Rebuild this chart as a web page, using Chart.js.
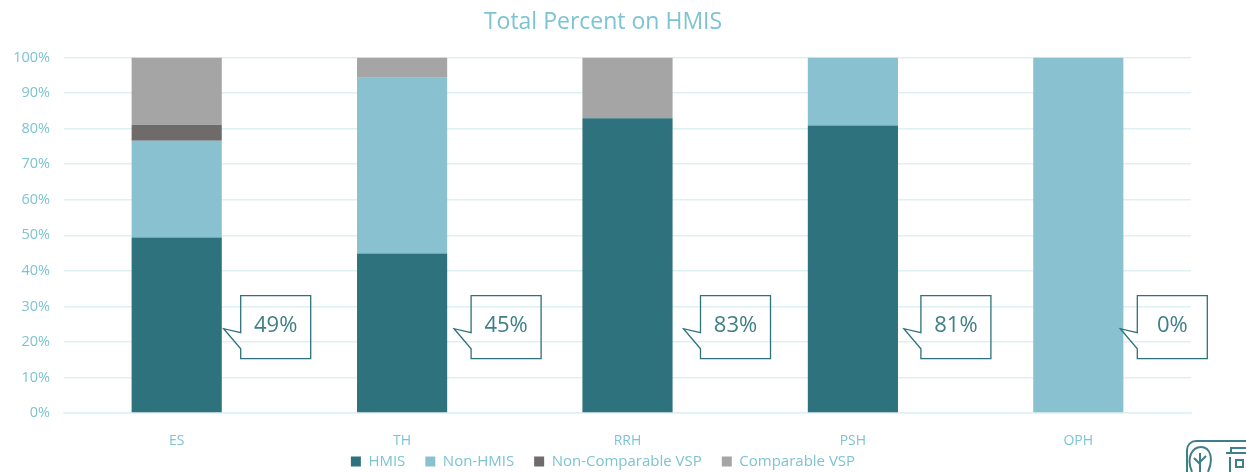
<!DOCTYPE html>
<html>
<head>
<meta charset="utf-8">
<title>Total Percent on HMIS</title>
<script src="https://cdn.jsdelivr.net/npm/chart.js@4"></script>
<style>
  html, body { margin: 0; padding: 0; background: #fff; }
  #wrap { width: 1246px; height: 472px; }
</style>
</head>
<body>
<div id="wrap"><canvas id="chart" width="1246" height="472"></canvas></div>
<script>
const categories = ["ES", "TH", "RRH", "PSH", "OPH"];
const hmis = [49.4, 44.9, 82.9, 80.9, 0];
const nonHmis = [27.2, 49.4, 0, 19.1, 100];
const nonComparableVsp = [4.5, 0, 0, 0, 0];
const comparableVsp = [18.9, 5.7, 17.1, 0, 0];
const calloutLabels = ["49%", "45%", "83%", "81%", "0%"];
const yTicks = [0, 10, 20, 30, 40, 50, 60, 70, 80, 90, 100];

const textColor = "#7cc4d2";
const gridColor = "#dff0f4";
const dark = "#2d727c";
const font = "'Open Sans', sans-serif";

// the bubbles were placed by hand in the original, so each has its own gap from the bar
const calloutGap = [19, 24, 28, 23, 14];

const callouts = {
  id: "callouts",
  afterDatasetsDraw(chart) {
    const ctx = chart.ctx;
    const top = chart.scales.y.getPixelForValue(33);
    categories.forEach((c, i) => {
      const edge = chart.scales.x.getPixelForValue(i) + 45;
      const left = edge + calloutGap[i];
      const right = left + 70;
      const bottom = top + 63;
      ctx.save();
      ctx.strokeStyle = dark;
      ctx.lineWidth = 1.3;
      ctx.beginPath();
      ctx.moveTo(left, top);
      ctx.lineTo(right, top);
      ctx.lineTo(right, bottom);
      ctx.lineTo(left, bottom);
      ctx.lineTo(left, top + 53);
      ctx.lineTo(left - 17, top + 33);
      ctx.lineTo(left, top + 37);
      ctx.closePath();
      ctx.stroke();
      ctx.fillStyle = "#3f7f88";
      ctx.font = "22px " + font;
      ctx.textAlign = "center";
      ctx.textBaseline = "middle";
      ctx.fillText(calloutLabels[i], left + 35, top + 30);
      ctx.restore();
    });
  }
};

// axis boxes are squeezed to place the plot, labels get clipped to them unless widened back
const unclipLabels = {
  id: "unclipLabels",
  afterLayout(chart) {
    chart.scales.x.bottom = chart.scales.x.top + 40;
    chart.scales.y.left = 0;
  }
};

// cut off logo in the bottom right corner
const logo = {
  id: "logo",
  afterDraw(chart) {
    const ctx = chart.ctx;
    ctx.save();
    ctx.strokeStyle = "#3f7f88";
    ctx.lineWidth = 2;
    ctx.beginPath();
    ctx.roundRect(1187, 441, 80, 50, 9);
    ctx.moveTo(1192, 472);
    ctx.bezierCurveTo(1186, 458, 1192, 447, 1201, 447);
    ctx.bezierCurveTo(1210, 447, 1214, 458, 1208, 472);
    ctx.moveTo(1200, 472);
    ctx.lineTo(1200, 453);
    ctx.moveTo(1200, 464);
    ctx.lineTo(1194, 458);
    ctx.moveTo(1200, 462);
    ctx.lineTo(1206, 456);
    ctx.moveTo(1226, 453);
    ctx.lineTo(1246, 453);
    ctx.moveTo(1231, 453);
    ctx.lineTo(1231, 448);
    ctx.lineTo(1246, 448);
    ctx.moveTo(1230, 472);
    ctx.lineTo(1230, 457);
    ctx.moveTo(1236, 460);
    ctx.lineTo(1243, 460);
    ctx.lineTo(1243, 467);
    ctx.lineTo(1236, 467);
    ctx.closePath();
    ctx.stroke();
    ctx.restore();
  }
};

new Chart(document.getElementById("chart"), {
  type: "bar",
  data: {
    labels: categories,
    datasets: [
      { label: "HMIS", data: hmis, backgroundColor: dark },
      { label: "Non-HMIS", data: nonHmis, backgroundColor: "#89c1d1" },
      { label: "Non-Comparable VSP", data: nonComparableVsp, backgroundColor: "#6f6b6b" },
      { label: "Comparable VSP", data: comparableVsp, backgroundColor: "#a5a5a5" }
    ]
  },
  options: {
    responsive: false,
    animation: false,
    layout: { padding: { left: 15, right: 55, top: 0, bottom: -7 } },
    datasets: { bar: { categoryPercentage: 1, barPercentage: 0.4 } },
    plugins: {
      title: {
        display: true,
        text: "Total Percent on HMIS",
        color: textColor,
        font: { family: font, size: 23, weight: "normal" },
        padding: { top: 9, bottom: 21 }
      },
      legend: {
        position: "bottom",
        labels: {
          color: textColor,
          boxWidth: 10,
          boxHeight: 10,
          padding: 20,
          font: { family: font, size: 15 }
        }
      },
      tooltip: { enabled: false }
    },
    scales: {
      x: {
        stacked: true,
        grid: { display: false },
        border: { color: gridColor, width: 1.5 },
        afterFit(axis) { axis.height = 21; },
        ticks: { color: textColor, font: { family: font, size: 14 }, padding: 12 }
      },
      y: {
        stacked: true,
        min: 0,
        max: 100,
        afterBuildTicks(axis) { axis.ticks = yTicks.map(v => ({ value: v })); },
        afterFit(axis) { axis.width = 49; },
        grid: { color: gridColor, lineWidth: 1.5, drawTicks: false },
        border: { display: false },
        ticks: {
          color: textColor,
          padding: 14,
          font: { family: font, size: 14.5 },
          callback: v => v + "%"
        }
      }
    }
  },
  plugins: [callouts, unclipLabels, logo]
});
</script>
</body>
</html>
